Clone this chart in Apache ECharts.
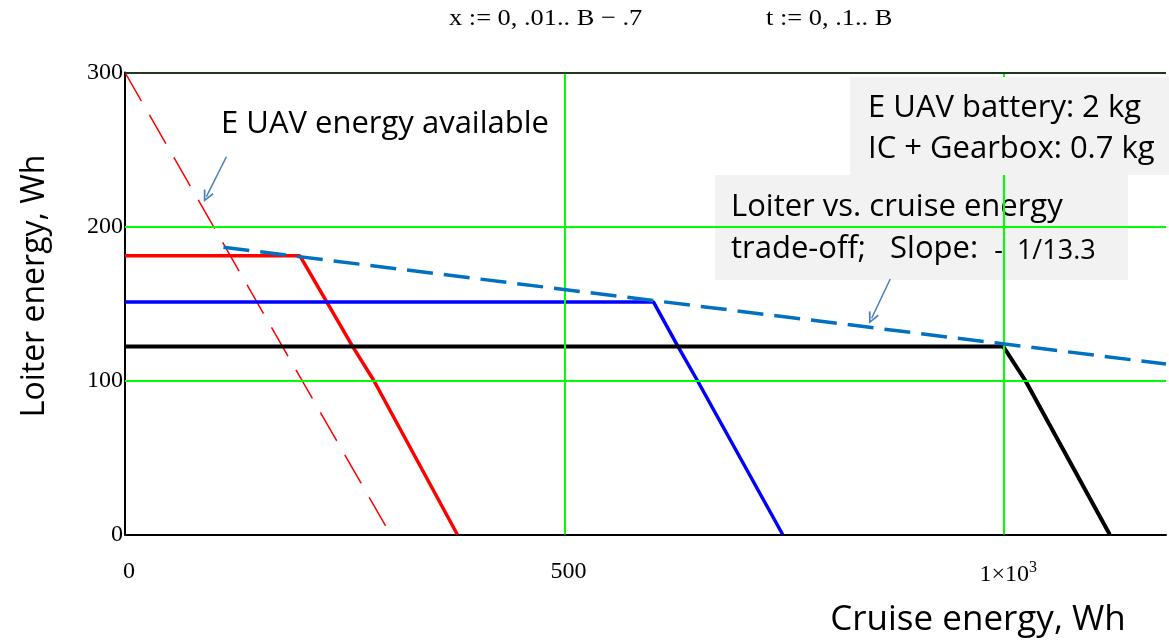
<!DOCTYPE html>
<html>
<head>
<meta charset="utf-8">
<script src="https://cdn.jsdelivr.net/npm/echarts@6/dist/echarts.min.js"></script>
<style>
html,body{margin:0;padding:0;background:#fff;}
#chart{width:1169px;height:643px;}
</style>
</head>
<body>
<div id="chart"></div>
<script>
// ---- data ----
const xTicks = [0, 500, 1000];
const yTicks = [0, 100, 200, 300];
const xGrid = [500, 1000];
const yGrid = [100, 200];
const redX = [0, 199, 259, 283, 378];
const redY = [181, 181, 122, 100, 0];
const blueX = [0, 601, 629, 651, 748];
const blueY = [151, 151, 122, 100, 0];
const blackX = [0, 999, 1024, 1120];
const blackY = [122, 122, 100, 0];
const availX = [0, 298];
const availY = [300, 4];
const tradeX = [112, 1184];
const tradeY = [186.5, 110.7];
const arrow1 = [[115.3, 245.3], [92.6, 219.4]];
const arrow2 = [[870.4, 165.9], [849.2, 140.4]];
const xMax = 1184;
const yMax = 300;

const zip = (xs, ys) => xs.map((x, i) => [x, ys[i]]);
const serif = '"Liberation Serif", "DejaVu Serif", serif';
const sans = '"Open Sans", "Noto Sans", sans-serif';
const chevron = 'path://M5,0 L10,9 L8.6,9.8 L5,3 L1.4,9.8 L0,9 Z';

const chart = echarts.init(document.getElementById('chart'), null, {renderer: 'canvas'});
const option = {
  animation: false,
  backgroundColor: '#ffffff',
  grid: {left: 125, right: 0, top: 72.5, bottom: 108.5, containLabel: false},
  xAxis: {
    type: 'value', min: 0, max: xMax, interval: 500,
    axisLine: {show: true, onZero: false, lineStyle: {color: '#000', width: 2}},
    axisTick: {show: false},
    splitLine: {show: false},
    axisLabel: {
      show: true, margin: 25, color: '#000', fontFamily: serif, fontSize: 24,
      padding: [0, 0, 0, 8],
      formatter: v => xTicks.indexOf(v) < 0 ? '' : (v === 1000 ? '{a|1×10}{s|3}' : String(v)),
      rich: {
        a: {fontFamily: serif, fontSize: 24, color: '#000'},
        s: {fontFamily: serif, fontSize: 16, color: '#000', verticalAlign: 'top', padding: [0, 0, 14, 0]}
      }
    }
  },
  yAxis: {
    type: 'value', min: 0, max: yMax, interval: 100,
    axisLine: {show: true, onZero: false, lineStyle: {color: '#000', width: 2}},
    axisTick: {show: false},
    splitLine: {show: false},
    axisLabel: {
      show: true, margin: 2, color: '#000', fontFamily: serif, fontSize: 24,
      padding: [4, 0, 0, 0],
      formatter: v => yTicks.indexOf(v) < 0 ? '' : String(v)
    }
  },
  series: [
    {
      type: 'line', z: 1, data: [], silent: true,
      markLine: {
        silent: true, symbol: 'none', animation: false,
        label: {show: false},
        lineStyle: {color: '#00FF00', width: 2, type: 'solid'},
        data: xGrid.map(v => ({xAxis: v})).concat(yGrid.map(v => ({yAxis: v})))
          .concat([{yAxis: yMax, lineStyle: {color: '#1b3b1b', width: 2, type: 'solid'}}])
      }
    },
    {type: 'line', z: 3, data: zip(availX, availY), showSymbol: false, symbol: 'none',
     lineStyle: {color: '#FF0000', width: 1.5, type: [33, 16]}},
    {type: 'line', z: 4, data: zip(redX, redY), showSymbol: false, symbol: 'none',
     lineStyle: {color: '#FF0000', width: 3.5}},
    {type: 'line', z: 4, data: zip(blueX, blueY), showSymbol: false, symbol: 'none',
     lineStyle: {color: '#0000FF', width: 3.5}},
    {type: 'line', z: 4, data: zip(blackX, blackY), showSymbol: false, symbol: 'none',
     lineStyle: {color: '#000000', width: 4}},
    {type: 'line', z: 5, data: zip(tradeX, tradeY), showSymbol: false, symbol: 'none',
     lineStyle: {color: '#0070C0', width: 3.5, type: [26, 11]},
     markLine: {
       silent: true, animation: false,
       symbol: ['none', chevron], symbolSize: [11, 12],
       label: {show: false},
       lineStyle: {color: '#4A7EBB', width: 1.5, type: 'solid'},
       data: [
         [{coord: arrow1[0]}, {coord: arrow1[1]}],
         [{coord: arrow2[0]}, {coord: arrow2[1]}]
       ]
     }}
  ],
  graphic: [
    {type: 'text', z: 10, x: 449, y: 7, scaleX: 1.1,
     style: {text: 'x := 0, .01.. B − .7', font: '24px ' + serif, fill: '#000'}},
    {type: 'text', z: 10, x: 766, y: 7, scaleX: 1.1,
     style: {text: 't := 0, .1.. B', font: '24px ' + serif, fill: '#000'}},
    {type: 'text', z: 10, x: 221, y: 124,
     style: {text: 'E UAV energy available', font: '31px ' + sans, fill: '#000', verticalAlign: 'middle'}},
    {type: 'rect', z: 0, shape: {x: 715, y: 175, width: 413, height: 105}, style: {fill: '#F2F2F2'}},
    {type: 'text', z: 0, x: 731, y: 207,
     style: {text: 'Loiter vs. cruise energy', font: '31px ' + sans, fill: '#000', verticalAlign: 'middle'}},
    {type: 'text', z: 0, x: 731, y: 249,
     style: {text: '{a|trade-off;   Slope:  }{b|-  1/13.3}', verticalAlign: 'middle',
       rich: {a: {fontFamily: sans, fontSize: 31, color: '#000'},
              b: {fontFamily: sans, fontSize: 27, color: '#000', padding: [4, 0, 0, 0]}}}},
    {type: 'rect', z: 20, shape: {x: 850, y: 77, width: 319, height: 98}, style: {fill: '#F2F2F2'}},
    {type: 'text', z: 21, x: 868, y: 108,
     style: {text: 'E UAV battery: 2 kg', font: '31px ' + sans, fill: '#000', verticalAlign: 'middle'}},
    {type: 'text', z: 21, x: 868, y: 149,
     style: {text: 'IC + Gearbox: 0.7 kg', font: '31px ' + sans, fill: '#000', verticalAlign: 'middle'}},
    {type: 'text', z: 10, x: 35, y: 286, rotation: Math.PI / 2,
     style: {text: 'Loiter energy, Wh', font: '32px ' + sans, fill: '#000', align: 'center', verticalAlign: 'middle'}},
    {type: 'text', z: 10, x: 978, y: 620,
     style: {text: 'Cruise energy, Wh', font: '35px ' + sans, fill: '#000', align: 'center', verticalAlign: 'middle'}}
  ]
};
chart.setOption(option);
</script>
</body>
</html>
